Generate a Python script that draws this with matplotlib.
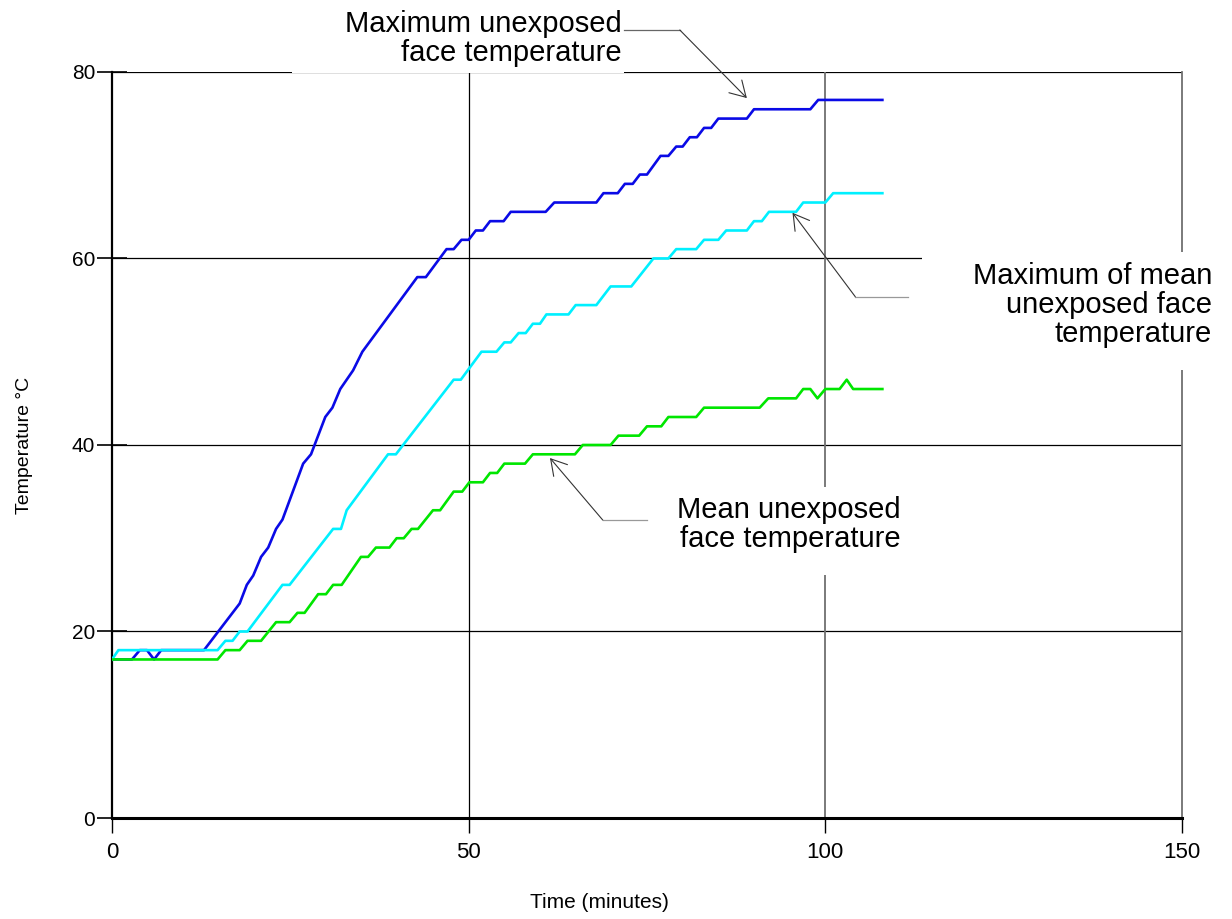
import matplotlib
matplotlib.use("Agg")
import matplotlib.pyplot as plt
from matplotlib.patches import Rectangle

plt.rcParams['font.family'] = ['Liberation Sans', 'DejaVu Sans']
NARROW = ['Liberation Sans Narrow', 'Liberation Sans', 'DejaVu Sans']

# Maximum unexposed face temperature (time min, temp C)
max_t = [0, 2.8, 3.9, 4.9, 5.9, 6.9, 12.9, 17.9, 18.9, 19.8, 20.9, 21.9, 23.0, 23.9,
         26.8, 27.9, 29.9, 30.9, 32.0, 33.8, 35.1, 42.8, 44.0, 46.9, 47.9, 49.0, 50.0,
         51.0, 52.0, 53.0, 54.9, 55.9, 60.8, 62.0, 67.9, 68.9, 70.9, 71.9, 73.0, 74.0,
         75.0, 76.9, 78.0, 79.1, 80.0, 81.0, 82.0, 83.0, 84.0, 85.0, 89.0, 90.0, 97.9,
         99.0, 108.0]
max_v = [17, 17, 18, 18, 17, 18, 18, 23, 25, 26, 28, 29, 31, 32,
         38, 39, 43, 44, 46, 48, 50, 58, 58, 61, 61, 62, 62,
         63, 63, 64, 64, 65, 65, 66, 66, 67, 67, 68, 68, 69,
         69, 71, 71, 72, 72, 73, 73, 74, 74, 75, 75, 76, 76,
         77, 77]

# Maximum of mean unexposed face temperature
maxmean_t = [0, 0.9, 14.8, 15.9, 16.9, 17.9, 19.0, 23.9, 24.9, 31.0, 32.1, 32.9, 38.7,
             39.8, 47.9, 48.9, 51.8, 53.9, 55.0, 55.9, 57.0, 58.0, 59.0, 60.0, 60.9,
             64.0, 65.0, 67.9, 69.9, 72.8, 75.9, 78.0, 79.1, 81.9, 83.0, 85.0, 86.1,
             89.0, 90.0, 91.1, 92.1, 95.9, 96.9, 100.0, 101.1, 108.0]
maxmean_v = [17, 18, 18, 19, 19, 20, 20, 25, 25, 31, 31, 33, 39,
             39, 47, 47, 50, 50, 51, 51, 52, 52, 53, 53, 54,
             54, 55, 55, 57, 57, 60, 60, 61, 61, 62, 62, 63,
             63, 64, 64, 65, 65, 66, 66, 67, 67]

# Mean unexposed face temperature
mean_t = [0, 14.8, 15.9, 17.9, 19.0, 20.9, 23.0, 24.9, 26.0, 27.0, 28.9, 30.0, 31.0,
          32.2, 34.9, 35.9, 37.0, 38.9, 39.9, 40.9, 42.0, 42.9, 45.0, 46.0, 47.9,
          49.1, 50.1, 52.0, 53.0, 54.0, 55.0, 57.9, 59.0, 64.9, 66.0, 69.9, 71.0,
          73.9, 75.0, 77.0, 78.0, 81.9, 83.0, 90.8, 92.0, 95.9, 96.9, 97.9, 98.9,
          100.0, 102.0, 103.0, 103.9, 108.0]
mean_v = [17, 17, 18, 18, 19, 19, 21, 21, 22, 22, 24, 24, 25,
          25, 28, 28, 29, 29, 30, 30, 31, 31, 33, 33, 35,
          35, 36, 36, 37, 37, 38, 38, 39, 39, 40, 40, 41,
          41, 42, 42, 43, 43, 44, 44, 45, 45, 46, 46, 45,
          46, 46, 47, 46, 46]

x_ticks = [0, 50, 100, 150]
y_ticks = [0, 20, 40, 60, 80]

fig = plt.figure(figsize=(12.32, 9.19), dpi=100)
ax = fig.add_axes([0.0909, 0.1099, 0.8685, 0.8118])
ax.set_xlim(0, 150)
ax.set_ylim(0, 80)

# grid
for yv in y_ticks[1:]:
    ax.axhline(yv, color='black', lw=0.9, zorder=1)
ax.axvline(50, color='black', lw=0.9, zorder=1)
ax.axvline(100, color='#707070', lw=1.3, zorder=1)
ax.axvline(150, color='#707070', lw=1.3, zorder=1, clip_on=False)

# white boxes behind the labels
for x0, y0, w, h in [(25.2, 79.85, 46.6, 10), (113.6, 48.0, 46, 12.7), (78.2, 26.1, 33, 9.4)]:
    ax.add_patch(Rectangle((x0, y0), w, h, facecolor='white', edgecolor='none',
                           zorder=2, clip_on=False))

ax.plot(max_t, max_v, color='#0a0ae6', lw=1.9, zorder=4)
ax.plot(maxmean_t, maxmean_v, color='#00f0ff', lw=1.9, zorder=4)
ax.plot(mean_t, mean_v, color='#00e600', lw=1.9, zorder=4)

txt = dict(fontsize=21, ha='right', va='center', linespacing=1.05, zorder=5)
ax.text(71.5, 83.6, 'Maximum unexposed\nface temperature', clip_on=False, **txt)
ax.text(154.2, 55.0, 'Maximum of mean\nunexposed face\ntemperature', clip_on=False, **txt)
ax.text(110.5, 31.5, 'Mean unexposed\nface temperature', **txt)

arr = dict(arrowstyle='->,head_length=1.1,head_width=0.65', color='#333333', lw=0.8,
           shrinkA=0, shrinkB=0)
# leaders: horizontal part, then arrow
ax.plot([71.8, 79.6], [84.5, 84.5], color='#666666', lw=0.9, clip_on=False, zorder=3)
ax.annotate('', xy=(89.0, 77.2), xytext=(79.6, 84.5), arrowprops=arr, annotation_clip=False, zorder=5)
ax.plot([104.2, 111.6], [55.9, 55.9], color='#999999', lw=0.9, zorder=3)
ax.annotate('', xy=(95.4, 64.9), xytext=(104.2, 55.9), arrowprops=arr, zorder=5)
ax.plot([68.8, 75.0], [31.95, 31.95], color='#999999', lw=0.9, zorder=3)
ax.annotate('', xy=(61.4, 38.6), xytext=(68.8, 31.95), arrowprops=arr, zorder=5)

for s in ['top', 'right']:
    ax.spines[s].set_visible(False)
ax.spines['left'].set_linewidth(1.6)
ax.spines['bottom'].set_linewidth(2.2)

ax.set_xticks(x_ticks)
ax.set_yticks(y_ticks)
ax.tick_params(axis='y', direction='inout', length=22, width=1.2, pad=1)
ax.tick_params(axis='x', direction='out', length=11, width=1.0, pad=6)
for lab in ax.get_xticklabels():
    lab.set_family(NARROW)
    lab.set_fontsize(16)
for lab in ax.get_yticklabels():
    lab.set_family(NARROW)
    lab.set_fontsize(15)

ax.set_xlabel('Time (minutes)', family=NARROW, fontsize=15)
ax.xaxis.set_label_coords(0.456, -0.1)
ax.set_ylabel('Temperature \u00b0C', fontsize=14, labelpad=28)

fig.savefig('out.png', dpi=100)
